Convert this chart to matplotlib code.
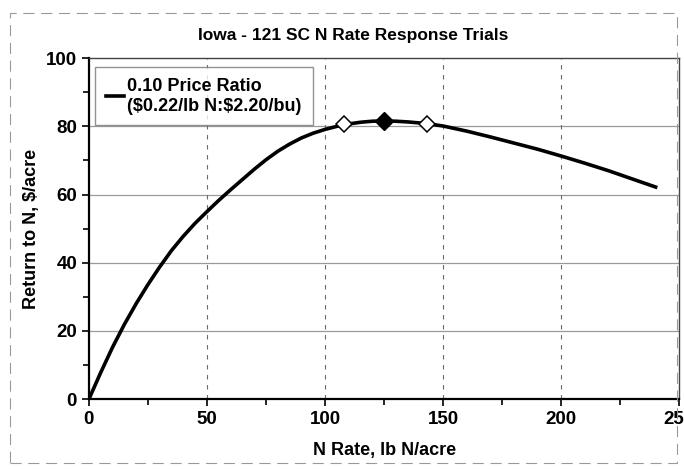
import matplotlib.pyplot as plt
from matplotlib.patches import Rectangle
import numpy as np

# N rate response curve
n_rate = [0, 5, 10, 15, 20, 25, 30, 35, 40, 45, 50, 55, 60, 65, 70, 75, 80, 85, 90,
          95, 100, 105, 110, 115, 120, 125, 130, 135, 140, 145, 150, 160, 170, 180,
          190, 200, 210, 220, 230, 240]
ret_n = [0, 7.8, 15.2, 21.9, 28, 33.6, 38.8, 43.6, 47.8, 51.6, 55, 58.3, 61.4, 64.4,
         67.4, 70.2, 72.7, 74.8, 76.6, 78.0, 79.1, 80.0, 80.7, 81.2, 81.5, 81.6, 81.5,
         81.3, 81.0, 80.6, 80.1, 78.6, 76.9, 75.1, 73.3, 71.3, 69.2, 67.0, 64.6, 62.2]

# MRTN and profitable range markers
mrtn_x = [125]
mrtn_y = [81.6]
range_x = [108, 143]
range_y = [80.8, 80.8]

plt.rcParams['font.family'] = ['Liberation Sans', 'DejaVu Sans']

fig = plt.figure(figsize=(6.84, 4.69), dpi=100)
ax = fig.add_axes([0.130, 0.149, 0.863, 0.727])

# grid: solid grey horizontals, dashed verticals
for yv in [20, 40, 60, 80]:
    ax.axhline(yv, color='#9a9a9a', lw=0.9, zorder=1)
for xv in [50, 100, 150, 200]:
    ax.axvline(xv, color='#6a6a6a', lw=0.8, ls=(0, (4, 5)), zorder=1)

ax.plot(n_rate, ret_n, color='black', lw=2.6, zorder=3, solid_joinstyle='round',
        label='0.10 Price Ratio\n(\\$0.22/lb N:\\$2.20/bu)')
ax.plot(range_x, range_y, ls='none', marker='D', ms=8, mfc='white',
        mec='black', mew=1.1, zorder=4)
ax.plot(mrtn_x, mrtn_y, ls='none', marker='D', ms=9, color='black', zorder=5)

ax.set_xlim(0, 250)
ax.set_ylim(0, 100)
ax.set_xticks([0, 50, 100, 150, 200, 250])
ax.set_xticks(np.arange(25, 250, 50), minor=True)
ax.set_yticks([0, 20, 40, 60, 80, 100])
ax.set_yticks(np.arange(10, 100, 20), minor=True)
ax.tick_params(axis='both', which='major', labelsize=13.5, length=5,
               width=1.2, direction='out')
ax.tick_params(axis='both', which='minor', length=4, width=1.2, direction='out')
for lbl in ax.get_xticklabels() + ax.get_yticklabels():
    lbl.set_fontweight('bold')

for side in ['left', 'bottom']:
    ax.spines[side].set_linewidth(1.6)
for side in ['top', 'right']:
    ax.spines[side].set_linewidth(1.0)
    ax.spines[side].set_color('#444444')

ax.set_xlabel('N Rate, lb N/acre', fontsize=13, fontweight='bold', labelpad=10)
ax.set_ylabel('Return to N, $/acre', fontsize=13, fontweight='bold', labelpad=4)
ax.set_title('Iowa - 121 SC N Rate Response Trials', fontsize=12.5,
             fontweight='bold', x=0.447, pad=13)

leg = ax.legend(loc='upper left', bbox_to_anchor=(-0.005, 1.0),
                prop={'weight': 'bold', 'size': 13}, frameon=True, fancybox=False,
                handlelength=1.0, handletextpad=0.2, borderpad=0.6, labelspacing=0.2)
leg.get_frame().set_edgecolor('#777777')
leg.get_frame().set_linewidth(1.0)

# scanned page border
fig.patches.append(Rectangle((0.015, 0.012), 0.975, 0.96, transform=fig.transFigure,
                             fill=False, ec='#999999', lw=0.8, ls=(0, (10, 6))))

fig.savefig('out.png', dpi=100)
